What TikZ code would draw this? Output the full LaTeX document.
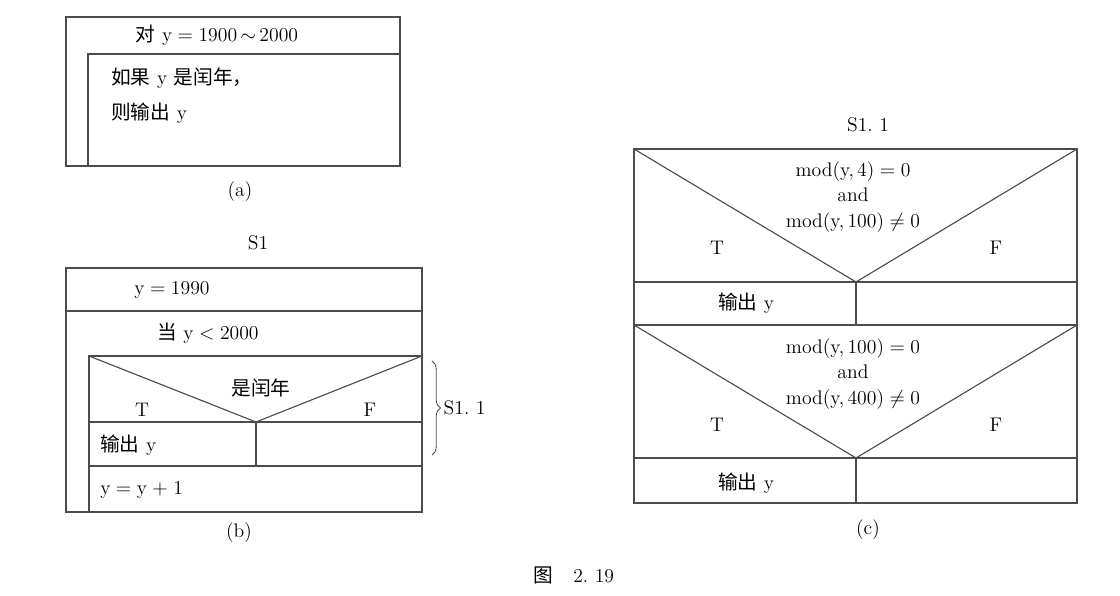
\documentclass[tikz,border=0pt]{standalone}
\usepackage{fontspec}
\newfontfamily\cjk{Noto Sans CJK SC}
\newcommand{\zh}[1]{{\cjk #1}}
\usetikzlibrary{positioning}
\usetikzlibrary{decorations.pathreplacing}
\tikzstyle{frame} = [draw=black!70, line width=0.8pt]
\tikzstyle{txt} = [inner sep=0pt, font=\fontsize{14}{18}\selectfont]
\tikzstyle{lbl} = [txt, anchor=west]
\begin{document}
\begin{tikzpicture}[x=0.025cm, y=-0.025cm]
    \useasboundingbox (0,0) rectangle (1120,596);

    % (a): the loop over the years
    \coordinate (aNW) at (66,17);
    \coordinate (aSE) at (400,166);
    \coordinate (aIn) at (88,54);
    \draw [frame] (aNW) rectangle (aSE);
    \draw [frame] (aIn -| aSE) -- (aIn) -- (aIn |- aSE);
    \node [txt] (aFor) at (217,35) {\zh{对} y\;$=$\;1900\,$\sim$\,2000};
    \node [lbl] (aIf) at (111,78) {\zh{如果} y \zh{是闰年，}};
    \node [lbl] (aOut) at (111,113) {\zh{则输出} y};
    \node [txt] (aCap) at (240,192) {(a)};

    % (b): refined with a while loop
    \coordinate (bNW) at (66,268);
    \coordinate (bSE) at (422,512);
    \coordinate (bRow) at (66,311);
    \coordinate (bIn) at (89,356);
    \coordinate (bV) at (256,422);
    \coordinate (bOut) at (256,466);
    \draw [frame] (bNW) rectangle (bSE);
    \draw [frame] (bRow) -- (bRow -| bSE);
    \draw [frame] (bIn -| bSE) -- (bIn) -- (bIn |- bSE);
    \draw [frame] (bIn) -- (bV) -- (bIn -| bSE);
    \draw [frame] (bV -| bIn) -- (bV -| bSE);
    \draw [frame] (bV) -- (bOut);
    \draw [frame] (bOut -| bIn) -- (bOut -| bSE);
    \node [txt] (bName) at (258,243) {S1};
    \node [txt] (bInit) at (172,290) {y\;$=$\;1990};
    \node [txt] (bWhile) at (208,333) {\zh{当} y\;$<$\;2000};
    \node [txt] (bLeap) at (261,388) {\zh{是闰年}};
    \node [txt] (bT) at (142,410) {T};
    \node [txt] (bF) at (370,410) {F};
    \node [lbl] (bOutY) at (100,445) {\zh{输出} y};
    \node [lbl] (bInc) at (100,490) {y\;$=$\;y\;$+$\;1};
    \node [txt] (bCap) at (239,533) {(b)};

    % the brace marks the part that (c) refines
    \coordinate (brT) at (432,361);
    \coordinate (brB) at (432,455);
    \draw [draw=black!70, line width=0.6pt, decorate, decoration={brace, amplitude=6pt}]
        (brT) -- (brB) node [txt, midway, right=8pt] (bSub) {S1.\,\,1};

    % (c): the leap year test in detail
    \coordinate (cNW) at (634,149);
    \coordinate (cSE) at (1077,503);
    \coordinate (cV1) at (856,282);
    \coordinate (cTop2) at (634,325);
    \coordinate (cV2) at (856,458);
    \draw [frame] (cNW) rectangle (cSE);
    \draw [frame] (cNW) -- (cV1) -- (cNW -| cSE);
    \draw [frame] (cV1 -| cNW) -- (cV1 -| cSE);
    \draw [frame] (cV1) -- (cV1 |- cTop2);
    \draw [frame] (cTop2) -- (cTop2 -| cSE);
    \draw [frame] (cTop2) -- (cV2) -- (cTop2 -| cSE);
    \draw [frame] (cV2 -| cNW) -- (cV2 -| cSE);
    \draw [frame] (cV2) -- (cV2 |- cSE);
    \node [txt] (cName) at (868,125) {S1.\,\,1};
    \node [txt, align=center] (cCond1) at (853,197)
        {mod(y,\,4)\;$=$\;0\\and\\mod(y,\,100)\;$\neq$\;0};
    \node [txt] (cT1) at (717,248) {T};
    \node [txt] (cF1) at (996,248) {F};
    \node [txt] (cOut1) at (746,303) {\zh{输出} y};
    \node [txt, align=center] (cCond2) at (853,374)
        {mod(y,\,100)\;$=$\;0\\and\\mod(y,\,400)\;$\neq$\;0};
    \node [txt] (cT2) at (717,425) {T};
    \node [txt] (cF2) at (996,425) {F};
    \node [txt] (cOut2) at (746,483) {\zh{输出} y};
    \node [txt] (cCap) at (868,530) {(c)};

    \node [txt] (fig) at (574,575) {\zh{图}\quad 2.\,\,19};
\end{tikzpicture}
\end{document}
